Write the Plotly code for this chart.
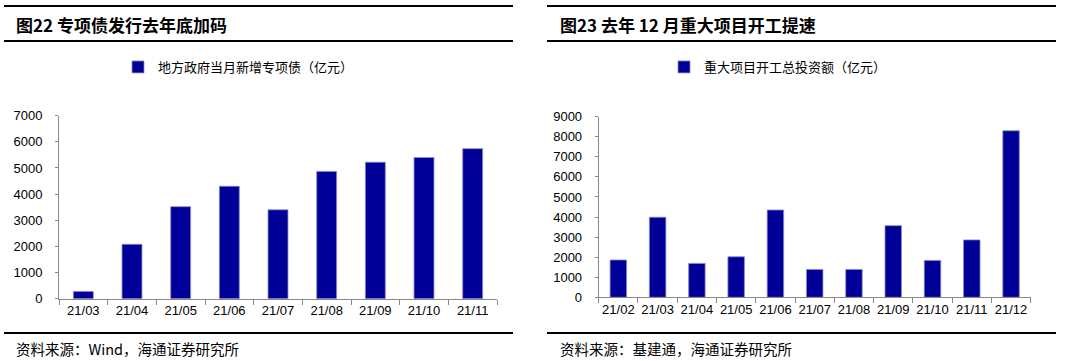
import plotly.graph_objects as go

W, H = 1080, 361

# Left chart data
left_cats = ["21/03", "21/04", "21/05", "21/06", "21/07", "21/08", "21/09", "21/10", "21/11"]
left_vals = [280, 2080, 3520, 4300, 3400, 4870, 5220, 5400, 5740]
left_name = "地方政府当月新增专项债（亿元）"
left_ticks = [0, 1000, 2000, 3000, 4000, 5000, 6000, 7000]

# Right chart data
right_cats = ["21/02", "21/03", "21/04", "21/05", "21/06", "21/07", "21/08", "21/09", "21/10", "21/11", "21/12"]
right_vals = [1860, 3990, 1690, 2020, 4350, 1390, 1390, 3570, 1840, 2860, 8300]
right_name = "重大项目开工总投资额（亿元）"
right_ticks = [0, 1000, 2000, 3000, 4000, 5000, 6000, 7000, 8000, 9000]

left_title = "图22 专项债发行去年底加码"
right_title = "图23 去年 12 月重大项目开工提速"
left_source = "资料来源：Wind，海通证券研究所"
right_source = "资料来源：基建通，海通证券研究所"

BAR = "#000099"
EDGE = "#8c8cc8"
CJK = "Noto Sans CJK SC"
LAT = "Liberation Sans, Arial"

def px(x):
    return x / W

def py(y):
    return (H - y) / H

fig = go.Figure()
fig.add_trace(go.Bar(x=left_cats, y=left_vals, name=left_name, xaxis="x", yaxis="y",
                     marker=dict(color=BAR, line=dict(color=EDGE, width=0.8)),
                     width=0.41, legend="legend"))
fig.add_trace(go.Bar(x=right_cats, y=right_vals, name=right_name, xaxis="x2", yaxis="y2",
                     marker=dict(color=BAR, line=dict(color=EDGE, width=0.8)),
                     width=0.42, legend="legend2"))

axis_common = dict(showgrid=False, zeroline=False, showline=True, linecolor="#888888",
                   linewidth=1, ticks="outside", tickcolor="#888888", automargin=False,
                   tickfont=dict(family=LAT, size=13, color="#000000"))

fig.update_layout(
    width=W, height=H, margin=dict(l=0, r=0, t=0, b=0, autoexpand=False),
    paper_bgcolor="white", plot_bgcolor="white",
    xaxis=dict(domain=[px(59), px(497)], anchor="y", tickson="boundaries", ticklen=5,
               tickangle=0, **axis_common),
    yaxis=dict(domain=[py(298.7), py(115.7)], anchor="x", range=[0, 7000], tickvals=left_ticks,
               ticklen=3, ticklabelstandoff=10, **axis_common),
    xaxis2=dict(domain=[px(598.7), px(1030.7)], anchor="y2", tickson="boundaries", ticklen=5,
                tickangle=0, **axis_common),
    yaxis2=dict(domain=[py(297.3), py(116.7)], anchor="x2", range=[0, 9000], tickvals=right_ticks,
                ticklen=3, ticklabelstandoff=10, **axis_common),
    legend=dict(x=px(118), y=py(67), xanchor="left", yanchor="middle", bgcolor="rgba(0,0,0,0)",
                font=dict(family=CJK, size=13, color="#000000"), itemwidth=30),
    legend2=dict(x=px(664), y=py(67), xanchor="left", yanchor="middle", bgcolor="rgba(0,0,0,0)",
                 font=dict(family=CJK, size=13, color="#000000"), itemwidth=30),
    showlegend=True,
)

shapes = []
for (x0, x1) in [(4, 513), (547, 1056)]:
    for y in (6, 41, 333):
        shapes.append(dict(type="line", xref="paper", yref="paper", x0=px(x0), x1=px(x1),
                           y0=py(y), y1=py(y), line=dict(color="#000000", width=2)))
fig.update_layout(shapes=shapes)

anns = [
    dict(text="<b>" + left_title + "</b>", x=px(14), y=py(24), xanchor="left", yanchor="middle",
         font=dict(family=CJK, size=17, color="#000000"), showarrow=False),
    dict(text="<b>" + right_title + "</b>", x=px(558), y=py(24), xanchor="left", yanchor="middle",
         font=dict(family=CJK, size=17, color="#000000"), showarrow=False),
    dict(text=left_source, x=px(14), y=py(348), xanchor="left", yanchor="middle",
         font=dict(family=CJK, size=14.5, color="#000000"), showarrow=False),
    dict(text=right_source, x=px(558), y=py(348), xanchor="left", yanchor="middle",
         font=dict(family=CJK, size=14.5, color="#000000"), showarrow=False),
]
for a in anns:
    a["xref"] = "paper"
    a["yref"] = "paper"
fig.update_layout(annotations=anns)

fig.write_html("out.html", config={"displayModeBar": False},
               post_script="document.body.style.margin='0';document.body.style.overflow='hidden';")
